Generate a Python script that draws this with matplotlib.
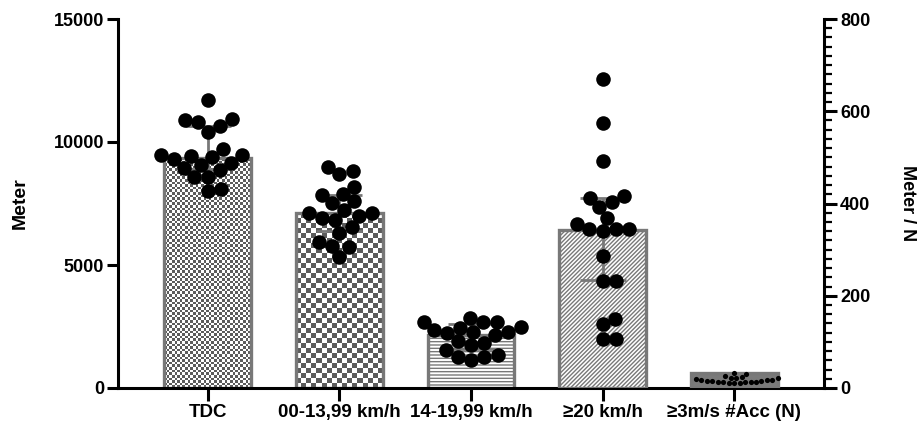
"""
Running distance per speed zone: bars (median) + IQR + individual players (swarm)
"""

import matplotlib
matplotlib.use("Agg")
import matplotlib.pyplot as plt
from matplotlib.colors import ListedColormap
import numpy as np

plt.rcParams["font.family"] = ["Liberation Sans", "DejaVu Sans"]
plt.rcParams["font.weight"] = "bold"
plt.rcParams["hatch.linewidth"] = 1.0

# ── data ─────────────────────────────────────────────────────────

categories = ["TDC", "00-13,99 km/h", "14-19,99 km/h", "≥20 km/h", "≥3m/s #Acc (N)"]

# left axis (Meter)
tdc = [11700, 10660, 10800, 10890, 10930, 10420, 9440, 9470, 9720, 9400,
       9470, 9310, 9130, 9070, 8860, 8930, 8590, 8590, 8010, 8090]
zone_0_14 = [8700, 8830, 8970, 8180, 7850, 7870, 7510, 7600, 6830, 7000,
             7130, 7240, 6920, 7100, 6310, 6530, 5950, 5740, 5790, 5340]
zone_14_20 = [2860, 2490, 2670, 2700, 2700, 2450, 2150, 2290, 2290, 2220,
              1750, 1820, 1550, 1270, 1340, 1140, 1270, 1900, 2350]
median_left = [9330, 7100, 2150]
q1_left = [8900, 6400, 1600]
q3_left = [10650, 7850, 2600]

# right axis (Meter / N)
zone_20 = [671, 574, 493, 413, 416, 404, 393, 368, 356, 344,
           340, 344, 344, 286, 233, 233, 149, 138, 106, 106]
acc_n = [16, 15, 14, 21, 10, 13, 14, 17, 25, 12,
         32, 21, 11, 20, 24, 13, 18, 10, 17, 31, 22, 16]
median_right = [343, 32]
q1_right = [234]
q3_right = [412]

EDGE = "#787878"
CHECKER = ListedColormap(["white", "#5c5c5c"])


# ── helpers ──────────────────────────────────────────────────────

def swarm(axis, values, diam):
    """simple beeswarm: x offsets (data units) so dots of diam px don't overlap"""
    ys = axis.transData.transform(np.column_stack([np.zeros(len(values)), values]))[:, 1]
    px_per_x = axis.transData.transform([(1, 0)])[0, 0] - axis.transData.transform([(0, 0)])[0, 0]
    xs = np.zeros(len(values))
    placed = []
    for i in np.argsort(ys):
        y = ys[i]
        cands = [0.0]
        for px, py in placed:
            dy = abs(y - py)
            if dy < diam:
                dx = np.sqrt(diam ** 2 - dy ** 2)
                cands += [px + dx, px - dx]
        cands.sort(key=abs)
        for c in cands:
            if all((c - px) ** 2 + (y - py) ** 2 >= diam ** 2 - 1e-6 for px, py in placed):
                xs[i] = c
                break
        placed.append((xs[i], y))
    return xs / px_per_x


def checker_fill(axis, bar, cell_px):
    """checkerboard texture clipped to a bar"""
    x0, y0 = bar.get_x(), bar.get_y()
    w, h = bar.get_width(), bar.get_height()
    (px0, py0), (px1, py1) = axis.transData.transform([(x0, y0), (x0 + w, y0 + h)])
    nx = max(int(round((px1 - px0) / cell_px)), 1)
    ny = max(int(round((py1 - py0) / cell_px)), 1)
    tile = np.add.outer(np.arange(ny), np.arange(nx)) % 2
    im = axis.imshow(tile, cmap=CHECKER, extent=(x0, x0 + w, y0, y0 + h), aspect="auto",
                     interpolation="nearest", origin="lower", zorder=1)
    im.set_clip_path(bar)


# ── figure ───────────────────────────────────────────────────────

fig = plt.figure(figsize=(9.18, 4.24), dpi=100)
ax = fig.add_axes([118 / 918, 36 / 424, 706 / 918, 369 / 424])
ax2 = ax.twinx()

x = np.arange(len(categories))
ax.set_xlim(-0.683, 4.683)
ax.set_ylim(0, 15000)
ax2.set_ylim(0, 800)

# bars
bars_l = ax.bar(x[:3], median_left, width=0.66, facecolor="none", edgecolor=EDGE,
                linewidth=2.4, zorder=2)
bars_l[2].set_facecolor("white")
bars_l[2].set_hatch("-----")
checker_fill(ax, bars_l[0], 2.6)
checker_fill(ax, bars_l[1], 5.0)

bars_r = ax2.bar(x[3:], median_right, width=0.66, facecolor="white", edgecolor=EDGE,
                 linewidth=2.4, zorder=2)
bars_r[0].set_hatch("////////")
bars_r[1].set_facecolor("#7a7a7a")

# IQR
med_l = np.array(median_left)
ax.errorbar(x[:3], med_l, yerr=[med_l - q1_left, np.array(q3_left) - med_l], fmt="none",
            ecolor=EDGE, elinewidth=2, capsize=16.5, capthick=2, zorder=3)
med_r = np.array(median_right[:1])
ax2.errorbar(x[3:4], med_r, yerr=[med_r - q1_right, np.array(q3_right) - med_r], fmt="none",
             ecolor=EDGE, elinewidth=2, capsize=16.5, capthick=2, zorder=3)

# individual points
for i, vals in enumerate([tdc, zone_0_14, zone_14_20]):
    ax.scatter(i + swarm(ax, vals, 13.5), vals, s=110, color="black", linewidths=0, zorder=4)
ax2.scatter(3 + swarm(ax2, zone_20, 13.5), zone_20, s=110, color="black", linewidths=0, zorder=4)
ax2.scatter(4 + swarm(ax2, acc_n, 5.5), acc_n, s=14, color="black", linewidths=0, zorder=4)

# axes styling
for s in ["top", "right"]:
    ax.spines[s].set_visible(False)
for s in ["top", "left", "bottom"]:
    ax2.spines[s].set_visible(False)
for sp in [ax.spines["left"], ax.spines["bottom"], ax2.spines["right"]]:
    sp.set_linewidth(2.2)

ax.set_yticks([0, 5000, 10000, 15000])
ax.set_xticks(x)
ax.set_xticklabels(categories)
ax.tick_params(axis="y", length=8, width=2.2, labelsize=13, pad=2)
ax.tick_params(axis="x", length=9.5, width=2.2, labelsize=13.5, pad=2)

ax2.set_yticks([0, 200, 400, 600, 800])
ax2.set_yticks(np.arange(0, 801, 20), minor=True)
ax2.tick_params(axis="y", which="major", length=9.5, width=2.2, labelsize=13, pad=2)
ax2.tick_params(axis="y", which="minor", length=6, width=1.6)

ax.set_ylabel("Meter", fontsize=14, fontweight="bold", rotation=90, va="center", ha="center")
ax.yaxis.set_label_coords(-0.139, 0.5)
ax2.set_ylabel("Meter / N", fontsize=13, fontweight="bold", rotation=270, va="center", ha="center")
ax2.yaxis.set_label_coords(1.1176, 0.5)

fig.savefig("out.png", dpi=100)
plt.close()
